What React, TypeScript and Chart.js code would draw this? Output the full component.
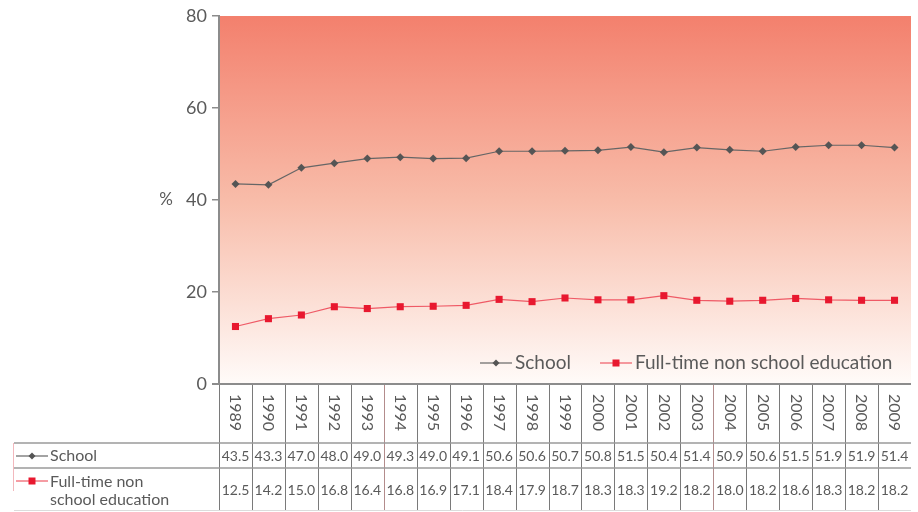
import React, { useEffect, useRef } from "react";
import { Chart, registerables } from "chart.js";

Chart.register(...registerables);

// Years on the category axis
const years = [
  "1989", "1990", "1991", "1992", "1993", "1994", "1995", "1996", "1997", "1998", "1999",
  "2000", "2001", "2002", "2003", "2004", "2005", "2006", "2007", "2008", "2009",
];

// Participation rates, %
const school = [
  43.5, 43.3, 47.0, 48.0, 49.0, 49.3, 49.0, 49.1, 50.6, 50.6, 50.7,
  50.8, 51.5, 50.4, 51.4, 50.9, 50.6, 51.5, 51.9, 51.9, 51.4,
];
const fullTime = [
  12.5, 14.2, 15.0, 16.8, 16.4, 16.8, 16.9, 17.1, 18.4, 17.9, 18.7,
  18.3, 18.3, 19.2, 18.2, 18.0, 18.2, 18.6, 18.3, 18.2, 18.2,
];

const schoolLabel = "School";
const fullTimeLabel = "Full-time non school education";
const fullTimeTableLines = ["Full-time non", "school education"];

const FONT = "Lato, 'Open Sans', sans-serif";
const TEXT = "#5a5a5a";
const SCHOOL_LINE = "#666666";
const SCHOOL_MARK = "#555555";
const FT_LINE = "#ef5a66";
const FT_MARK = "#e8182f";
const RULE = "#8c8c8c";

function drawSample(
  ctx: CanvasRenderingContext2D,
  x0: number,
  x1: number,
  y: number,
  line: string,
  mark: string,
  kind: "diamond" | "square"
) {
  ctx.save();
  ctx.strokeStyle = line;
  ctx.lineWidth = 1.2;
  ctx.beginPath();
  ctx.moveTo(x0, y);
  ctx.lineTo(x1, y);
  ctx.stroke();
  ctx.fillStyle = mark;
  const cx = (x0 + x1) / 2;
  ctx.beginPath();
  if (kind === "diamond") {
    ctx.moveTo(cx, y - 3.5);
    ctx.lineTo(cx + 3.5, y);
    ctx.lineTo(cx, y + 3.5);
    ctx.lineTo(cx - 3.5, y);
    ctx.closePath();
  } else {
    ctx.rect(cx - 3.5, y - 3.5, 7, 7);
  }
  ctx.fill();
  ctx.restore();
}

const decorPlugin = {
  id: "decor",
  beforeDraw(chart: any) {
    const { ctx, chartArea: a } = chart;
    const g = ctx.createLinearGradient(0, a.top, 0, a.bottom);
    g.addColorStop(0, "#f3806d");
    g.addColorStop(0.5, "#f8bca9");
    g.addColorStop(1, "#fffbf9");
    ctx.save();
    ctx.fillStyle = g;
    ctx.fillRect(a.left, a.top, a.right - a.left, a.bottom - a.top);
    ctx.restore();
  },
  afterDraw(chart: any) {
    const { ctx, chartArea: a } = chart;
    const xs = chart.scales.x;
    const n = years.length;
    const tableTop = a.bottom;
    const row1 = a.bottom + 59;
    const row2 = row1 + 25;
    const tableBottom = 510;
    const labelLeft = 14;

    ctx.save();

    // "%" axis caption
    ctx.fillStyle = TEXT;
    ctx.font = `17px ${FONT}`;
    ctx.textAlign = "center";
    ctx.textBaseline = "middle";
    ctx.fillText("%", 166, chart.scales.y.getPixelForValue(40));

    // In-chart legend
    const ly = a.bottom - 21;
    ctx.font = `19px ${FONT}`;
    ctx.textAlign = "left";
    drawSample(ctx, 480, 512, ly, SCHOOL_LINE, SCHOOL_MARK, "diamond");
    ctx.fillStyle = TEXT;
    ctx.fillText(schoolLabel, 515, ly);
    drawSample(ctx, 600, 632, ly, FT_LINE, FT_MARK, "square");
    ctx.fillStyle = TEXT;
    ctx.fillText(fullTimeLabel, 635, ly);

    // Column boundaries of the data table
    const bounds: number[] = [a.left];
    for (let i = 0; i < n - 1; i++) {
      bounds.push((xs.getPixelForValue(i) + xs.getPixelForValue(i + 1)) / 2);
    }
    ctx.lineWidth = 1;
    bounds.forEach((bx, k) => {
      ctx.strokeStyle = k === 5 || k === 15 ? "#b38c8c" : "#7a7a7a";
      const x = Math.round(bx) + 0.5;
      ctx.beginPath();
      ctx.moveTo(x, tableTop);
      ctx.lineTo(x, tableBottom);
      ctx.stroke();
    });

    // Horizontal rules
    ctx.strokeStyle = "#9a9a9a";
    ctx.lineWidth = 1.5;
    [row1, row2].forEach((y) => {
      ctx.beginPath();
      ctx.moveTo(labelLeft, y);
      ctx.lineTo(a.right, y);
      ctx.stroke();
    });
    ctx.strokeStyle = "#dcdcdc";
    ctx.lineWidth = 1;
    ctx.beginPath();
    ctx.moveTo(labelLeft, tableBottom + 0.5);
    ctx.lineTo(a.right, tableBottom + 0.5);
    ctx.stroke();

    // Pale left edge of the label column
    ctx.strokeStyle = "#f2b8bd";
    ctx.beginPath();
    ctx.moveTo(labelLeft - 0.5, row1);
    ctx.lineTo(labelLeft - 0.5, row2 + 23);
    ctx.stroke();

    // Year headers, rotated clockwise
    ctx.fillStyle = TEXT;
    ctx.font = `16px ${FONT}`;
    years.forEach((yr, i) => {
      const x = xs.getPixelForValue(i);
      ctx.save();
      ctx.translate(x, tableTop + 10);
      ctx.rotate(Math.PI / 2);
      ctx.textAlign = "left";
      ctx.textBaseline = "middle";
      ctx.fillText(yr, 0, 0);
      ctx.restore();
    });

    // Row labels
    drawSample(ctx, 16, 48, row1 + 13, SCHOOL_LINE, SCHOOL_MARK, "diamond");
    drawSample(ctx, 16, 48, row2 + 13, FT_LINE, FT_MARK, "square");
    ctx.fillStyle = TEXT;
    ctx.font = `16px ${FONT}`;
    ctx.textAlign = "left";
    ctx.textBaseline = "middle";
    ctx.fillText(schoolLabel, 50, row1 + 13);
    ctx.fillText(fullTimeTableLines[0], 50, row2 + 14);
    ctx.fillText(fullTimeTableLines[1], 50, row2 + 32);

    // Values
    ctx.font = `14px ${FONT}`;
    ctx.textAlign = "center";
    years.forEach((_, i) => {
      const x = xs.getPixelForValue(i);
      ctx.fillText(school[i].toFixed(1), x, row1 + 13);
      ctx.fillText(fullTime[i].toFixed(1), x, row2 + 22);
    });

    ctx.restore();
  },
};

export default function App() {
  const ref = useRef<HTMLCanvasElement | null>(null);

  useEffect(() => {
    if (!ref.current) return;
    const chart = new Chart(ref.current, {
      type: "line",
      data: {
        labels: years,
        datasets: [
          {
            label: schoolLabel,
            data: school,
            borderColor: SCHOOL_LINE,
            backgroundColor: SCHOOL_MARK,
            borderWidth: 1.2,
            pointStyle: "rectRot",
            pointRadius: 4,
            pointBorderWidth: 0,
            pointBackgroundColor: SCHOOL_MARK,
            tension: 0,
          },
          {
            label: fullTimeLabel,
            data: fullTime,
            borderColor: FT_LINE,
            backgroundColor: FT_MARK,
            borderWidth: 1.2,
            pointStyle: "rect",
            pointRadius: 5,
            pointBorderWidth: 0,
            pointBackgroundColor: FT_MARK,
            tension: 0,
          },
        ],
      },
      options: {
        animation: false,
        responsive: true,
        maintainAspectRatio: false,
        layout: { padding: { top: 16, right: 7, bottom: 128, left: 0 } },
        plugins: {
          legend: { display: false },
          tooltip: { enabled: false },
        },
        scales: {
          x: {
            display: false,
            offset: true,
          },
          y: {
            min: 0,
            max: 80,
            ticks: {
              stepSize: 20,
              color: TEXT,
              font: { family: FONT, size: 18 },
              padding: 5,
            },
            grid: {
              drawOnChartArea: false,
              drawTicks: true,
              tickLength: 7,
              color: RULE,
              lineWidth: 1.5,
            },
            border: { display: true, color: RULE, width: 2 },
            afterFit: (scale: any) => {
              scale.width = 219;
            },
          },
        },
      },
      plugins: [
        decorPlugin,
        {
          id: "baseline",
          afterDraw(chart: any) {
            const { ctx, chartArea: a } = chart;
            ctx.save();
            ctx.strokeStyle = RULE;
            ctx.lineWidth = 2;
            ctx.beginPath();
            ctx.moveTo(a.left - 7, a.bottom);
            ctx.lineTo(a.right, a.bottom);
            ctx.stroke();
            ctx.restore();
          },
        },
      ],
    });
    return () => chart.destroy();
  }, []);

  return (
    <div style={{ position: "absolute", left: 0, top: 0, width: 918, height: 512 }}>
      <canvas ref={ref} />
    </div>
  );
}
